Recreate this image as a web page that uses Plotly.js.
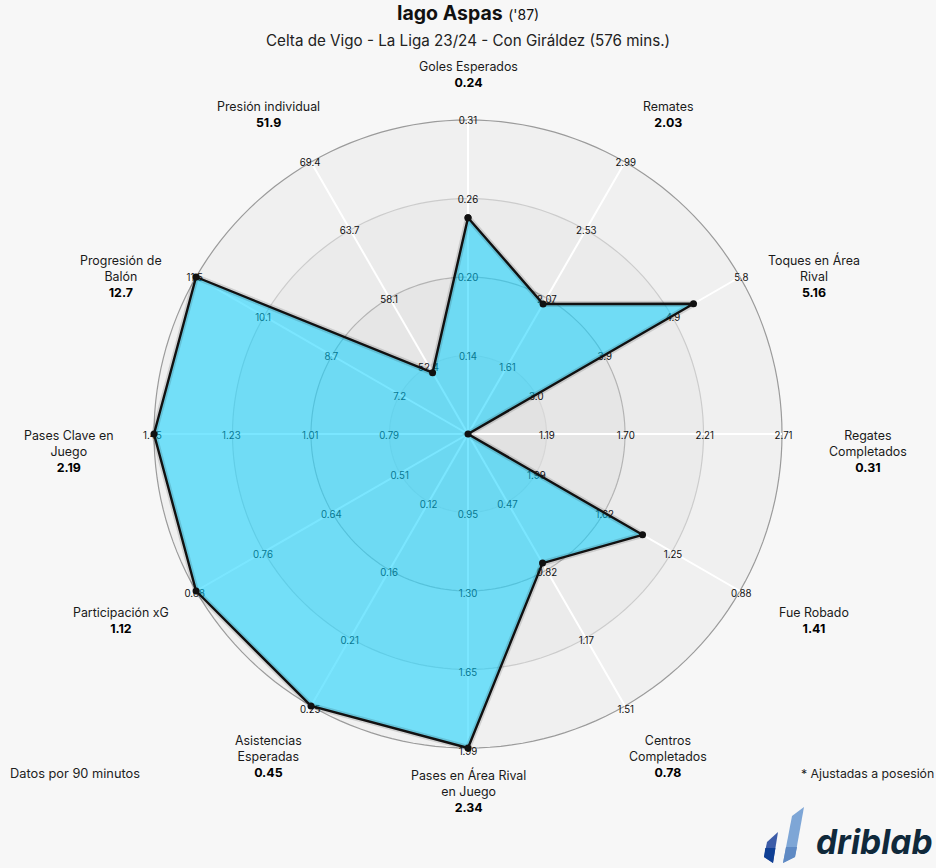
<!DOCTYPE html>
<html><head><meta charset="utf-8">
<script src="https://cdn.plot.ly/plotly-3.0.1.min.js"></script>
<style>html,body{margin:0;padding:0;background:#f7f7f7}</style>
</head><body><div id="c" style="width:936px;height:868px"></div>
<script>
// Data, clockwise from the top
const categories = ["Goles Esperados","Remates","Toques en Área<br>Rival","Regates<br>Completados","Fue Robado","Centros<br>Completados","Pases en Área Rival<br>en Juego","Asistencias<br>Esperadas","Participación xG","Pases Clave en<br>Juego","Progresión de<br>Balón","Presión individual"];
const valueLabels = ["0.24","2.03","5.16","0.31","1.41","0.78","2.34","0.45","1.12","2.19","12.7","51.9"];
const values = [0.24,2.03,5.16,0.31,1.41,0.78,2.34,0.45,1.12,2.19,12.7,51.9];
const scaleCentre = [0.085,1.15,2.05,0.68,2.36,0.12,0.60,0.08,0.39,0.57,5.8,46.8];
const scaleEdge = [0.31,2.99,5.8,2.71,0.88,1.51,1.99,0.25,0.88,1.45,11.5,69.4];
const tick1 = ["0.14","1.61","3.0","1.19","1.99","0.47","0.95","0.12","0.51","0.79","7.2","52.4"];
const tick2 = ["0.20","2.07","3.9","1.70","1.62","0.82","1.30","0.16","0.64","1.01","8.7","58.1"];
const tick3 = ["0.26","2.53","4.9","2.21","1.25","1.17","1.65","0.21","0.76","1.23","10.1","63.7"];
const tick4 = ["0.31","2.99","5.8","2.71","0.88","1.51","1.99","0.25","0.88","1.45","11.5","69.4"];
const ringCount = 4;

// Layout helpers
const W=936,H=868, cx=468, cy=434, R=314;
const rangeMax=4.2, Rd=R*rangeMax/ringCount;
const X=p=>p/W, Y=p=>1-p/H;
const labelPos=[[468,75],[668,114.5],[814,276],[868,452],[814,620],[668,756],[468,791],[268,756],[121,620],[68,452],[121,276],[268,114.5]];
const theta=categories.map((_,i)=>i*30);
const score=values.map((v,i)=>{
  const t=(v-scaleCentre[i])/(scaleEdge[i]-scaleCentre[i])*ringCount;
  return Math.max(0,Math.min(ringCount,t));
});
const closedT=[...theta,theta[0]], closedR=[...score,score[0]];
const bandCols=["#e2e2e2","#e6e6e6","#ebebeb","#f0f0f0"];
const ringCols=["#d6d6d6","#b4b4b4","#cccccc","#9b9b9b"];
const traces=[];
bandCols.forEach((c,i)=>traces.push({type:'barpolar',r:[1],base:[i],theta:[0],width:[360],marker:{color:c,line:{width:0}},hoverinfo:'skip',showlegend:false}));
const circ=[];for(let a=0;a<=360;a+=2)circ.push(a);
ringCols.forEach((c,i)=>traces.push({type:'scatterpolar',mode:'lines',r:circ.map(()=>i+1),theta:circ,line:{color:c,width:1.2},hoverinfo:'skip',showlegend:false}));
theta.forEach(t=>traces.push({type:'scatterpolar',mode:'lines',r:[0,ringCount],theta:[t,t],line:{color:'#ffffff',width:2},hoverinfo:'skip',showlegend:false}));
// tick labels sit on their ring, nudged a little below it
const unit=R/ringCount, nudge=2.8/unit, stretch=1.005;
const nudged=(ring,t)=>{
  const a=t*Math.PI/180, px=ring*stretch*Math.sin(a), py=ring*stretch*Math.cos(a)-nudge;
  return {r:Math.hypot(px,py),t:Math.atan2(px,py)*180/Math.PI};
};
[tick1,tick2,tick3,tick4].forEach((tk,i)=>{
  const pts=theta.map(t=>nudged(i+1,t));
  traces.push({type:'scatterpolar',mode:'text',r:pts.map(p=>p.r),theta:pts.map(p=>p.t),text:tk,textposition:'middle center',textfont:{family:'Inter, sans-serif',size:9.7,color:'#111'},hoverinfo:'skip',showlegend:false});
});
traces.push({type:'scatterpolar',mode:'lines',r:closedR,theta:closedT,fill:'toself',fillcolor:'rgba(0,208,255,0.52)',line:{color:'rgba(0,0,0,0)',width:0},hoverinfo:'skip',showlegend:false});
traces.push({type:'scatterpolar',mode:'lines',r:closedR,theta:closedT,line:{color:'rgba(0,0,0,0.13)',width:6},hoverinfo:'skip',showlegend:false});
traces.push({type:'scatterpolar',mode:'lines+markers',r:closedR,theta:closedT,line:{color:'#111',width:2.4},marker:{color:'#111',size:7},hoverinfo:'skip',showlegend:false});

const F='Inter, sans-serif';
const ann=[];
const add=(x,y,text,size,color,xanchor)=>ann.push({xref:'paper',yref:'paper',x:X(x),y:Y(y),text,showarrow:false,xanchor:xanchor||'center',yanchor:'middle',borderpad:0,font:{family:F,size:size,color:color||'#1a1a1a'},align:'center'});
categories.forEach((c,i)=>add(labelPos[i][0],labelPos[i][1],c+"<br><b style='color:#000'>"+valueLabels[i]+"</b>",12.4));
add(468,13,"<b>Iago Aspas</b> <span style='font-size:14px'>('87)</span>",19.5,'#111');
add(468,40,"Celta de Vigo - La Liga 23/24 - Con Giráldez (576 mins.)",15.2,'#222');
add(9,773,"Datos por 90 minutos",12.8,'#222','left');
add(935,773,"* Ajustadas a posesión",12.3,'#222','right');
add(934,842,"<b><i>driblab</i></b>",33.5,'#10293b','right');

const poly=(pts,c)=>({type:'path',xref:'paper',yref:'paper',path:'M'+pts.map(p=>X(p[0])+','+Y(p[1])).join('L')+'Z',fillcolor:c,line:{width:0},layer:'above'});
const shapes=[
 poly([[804,807],[795,857],[783,863],[792,816]],'#7ea6d6'),
 poly([[786,847],[797,847],[795,857],[783,863]],'#5f8ac4'),
 poly([[778,832],[773,863],[764,857],[767,842]],'#3c5ca8'),
 poly([[765.3,848],[775.4,848],[773,863],[764,857]],'#0f3f94')
];

Plotly.newPlot('c',traces,{
  width:W,height:H,margin:{l:0,r:0,t:0,b:0},paper_bgcolor:'#f7f7f7',showlegend:false,
  polar:{
    domain:{x:[X(cx-Rd),X(cx+Rd)],y:[Y(cy+Rd),Y(cy-Rd)]},
    bgcolor:'rgba(0,0,0,0)',
    barmode:'overlay',
    radialaxis:{visible:false,range:[0,rangeMax]},
    angularaxis:{visible:false,direction:'clockwise',rotation:90,thetaunit:'degrees'}
  },
  annotations:ann,shapes:shapes
},{displayModeBar:false,staticPlot:true});
</script></body></html>
